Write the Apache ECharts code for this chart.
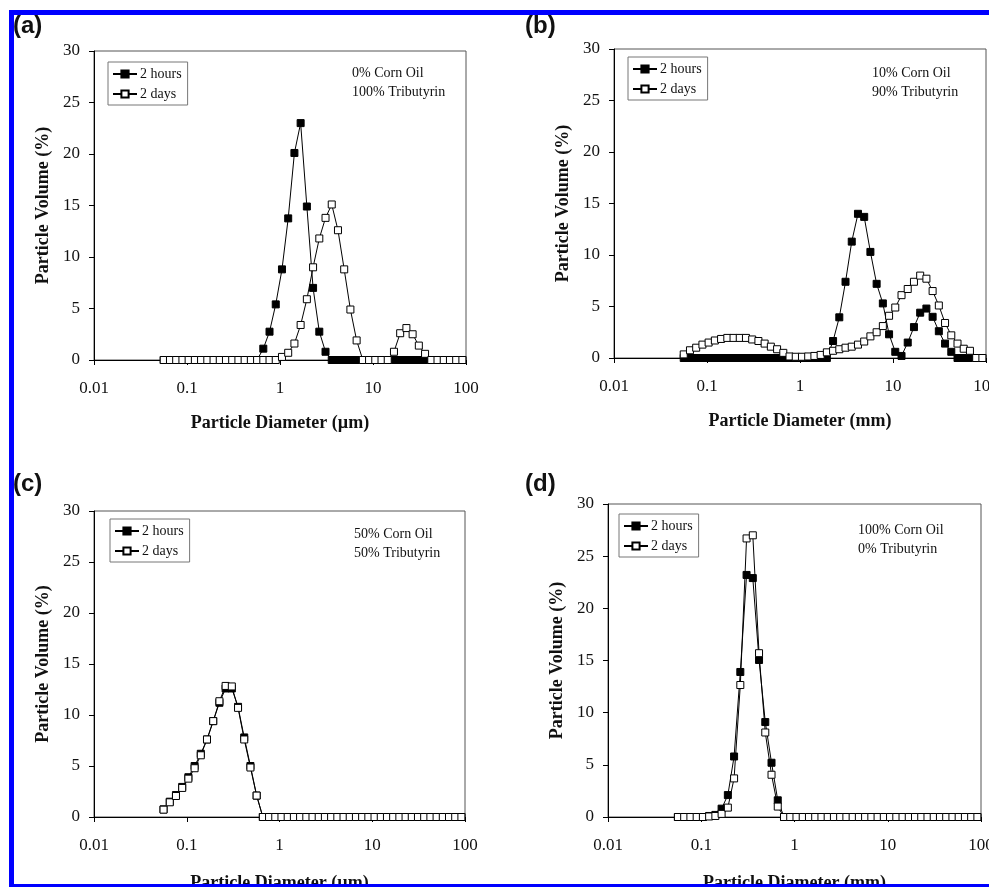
<!DOCTYPE html>
<html><head><meta charset="utf-8">
<script src="https://cdn.jsdelivr.net/npm/echarts@6/dist/echarts.min.js"></script>
<style>html,body{margin:0;padding:0;background:#fff;} #c{width:989px;height:887px;}</style>
</head><body><div id="c"></div>
<script>
// particle size classes (µm / mm), shared by all panels
const diameters = [0.0562,0.0656,0.0765,0.0893,0.1041,0.1215,0.1417,0.1653,0.1929,0.2250,
  0.2624,0.3062,0.3572,0.4166,0.4860,0.5670,0.6614,0.7716,0.9000,1.050,
  1.225,1.429,1.667,1.945,2.268,2.646,3.087,3.601,4.201,4.900,
  5.715,6.668,7.778,9.073,10.58,12.35,14.40,16.80,19.60,22.86,
  26.67,31.11,36.29,42.34,49.39,57.61,67.21,78.41,91.46];

const xTickLabels = ['0.01','0.1','1','10','100'];
const seriesNames = ['2 hours','2 days'];

// (a) 0% corn oil / 100% tributyrin
const aHours = [0,0,0,0,0,0,0,0,0,0, 0,0,0,0,0,0,1.1,2.75,5.4,8.8, 13.75,20.1,23.0,14.9,7.0,2.75,0.8,0,0,0, 0,0,0,0,0,0,0,0,0,0, 0,0,0,0,0,0,0,0,0];
const aDays  = [0,0,0,0,0,0,0,0,0,0, 0,0,0,0,0,0,0,0,0,0.3, 0.7,1.6,3.4,5.9,9.0,11.8,13.8,15.1,12.6,8.8, 4.9,1.9,0,0,0,0,0,0.8,2.6,3.1, 2.5,1.4,0.6,0,0,0,0,0,0];
// (b) 10% corn oil / 90% tributyrin
const bHours = [0,0,0,0,0,0,0,0,0,0, 0,0,0,0,0,0,0,0,0,0, 0,0,0,0,1.65,3.95,7.4,11.3,14.0,13.7, 10.3,7.2,5.3,2.3,0.6,0.2,1.5,3.0,4.4,4.8, 4.0,2.6,1.4,0.6,0,0,0,0,0];
const bDays  = [0.35,0.75,1.0,1.3,1.5,1.7,1.85,1.95,1.95,1.95, 1.95,1.8,1.65,1.4,1.1,0.85,0.5,0.15,0.12,0.12, 0.15,0.2,0.3,0.55,0.7,0.85,1.0,1.1,1.3,1.6, 2.1,2.5,3.1,4.1,4.9,6.1,6.7,7.4,8.0,7.7, 6.5,5.1,3.4,2.2,1.4,0.9,0.7,0,0];
// (c) 50% corn oil / 50% tributyrin
const cHours = [0.75,1.5,2.15,2.95,3.9,5.0,6.2,7.6,9.4,11.2, 12.6,12.6,10.8,7.8,5.0,2.1,0,0,0,0, 0,0,0,0,0,0,0,0,0,0, 0,0,0,0,0,0,0,0,0,0, 0,0,0,0,0,0,0,0,0];
const cDays  = [0.72,1.44,2.06,2.85,3.76,4.78,6.05,7.6,9.4,11.35, 12.85,12.8,10.7,7.6,4.85,2.1,0,0,0,0, 0,0,0,0,0,0,0,0,0,0, 0,0,0,0,0,0,0,0,0,0, 0,0,0,0,0,0,0,0,0];
// (d) 100% corn oil / 0% tributyrin
const dHours = [0,0,0,0,0,0.1,0.2,0.8,2.1,5.8, 13.9,23.2,22.9,15.05,9.1,5.2,1.6,0,0,0, 0,0,0,0,0,0,0,0,0,0, 0,0,0,0,0,0,0,0,0,0, 0,0,0,0,0,0,0,0,0];
const dDays  = [0,0,0,0,0,0.05,0.1,0.3,0.9,3.7, 12.65,26.7,27.0,15.7,8.1,4.05,1.0,0,0,0, 0,0,0,0,0,0,0,0,0,0, 0,0,0,0,0,0,0,0,0,0, 0,0,0,0,0,0,0,0,0];

const panelLabels = ['(a)','(b)','(c)','(d)'];
const xTitles = ['Particle Diameter (µm)','Particle Diameter (mm)','Particle Diameter (µm)','Particle Diameter (mm)'];
const yTitle = 'Particle Volume (%)';
const notes = [['0% Corn Oil','100% Tributyrin'],['10% Corn Oil','90% Tributyrin'],['50% Corn Oil','50% Tributyrin'],['100% Corn Oil','0% Tributyrin']];
const hoursSets = [aHours,bHours,cHours,dHours];
const daysSets = [aDays,bDays,cDays,dDays];

// layout (pixels)
const layout = [
  {grid:{left:94,top:51,width:372,height:309}, legend:{left:108,top:62}, note:{x:352,y:73}, label:{x:13,y:26}, xGap:54},
  {grid:{left:614,top:49,width:372,height:309}, legend:{left:628,top:57}, note:{x:872,y:73}, label:{x:525,y:26}, xGap:54},
  {grid:{left:94,top:511,width:371,height:306}, legend:{left:110,top:519}, note:{x:354,y:534}, label:{x:13,y:484}, xGap:57},
  {grid:{left:608,top:504,width:373,height:313}, legend:{left:619,top:514}, note:{x:858,y:530}, label:{x:525,y:484}, xGap:57}
];

const serif = '"Liberation Serif", "Times New Roman", serif';
const grids = [], xAxes = [], yAxes = [], series = [], legends = [], graphics = [];

layout.forEach((L, i) => {
  grids.push(Object.assign({show:true, borderColor:'#555', borderWidth:1, backgroundColor:'transparent', containLabel:false, outerBoundsMode:'none'}, L.grid));
  xAxes.push({
    type:'log', logBase:10, min:0.01, max:100, gridIndex:i,
    name:xTitles[i], nameLocation:'middle', nameGap:L.xGap,
    nameTextStyle:{fontFamily:serif, fontWeight:'bold', fontSize:18, color:'#111'},
    axisLine:{show:true, onZero:false, lineStyle:{color:'#000', width:1}},
    axisTick:{show:true, inside:false, length:5, lineStyle:{color:'#000'}},
    minorTick:{show:false}, splitLine:{show:false},
    axisLabel:{fontFamily:serif, fontSize:17, color:'#111', margin:20, hideOverlap:false,
      formatter:(v)=>xTickLabels[Math.round(Math.log10(v))+2]}
  });
  yAxes.push({
    type:'value', min:0, max:30, interval:5, gridIndex:i,
    name:yTitle, nameLocation:'middle', nameGap:42,
    nameTextStyle:{fontFamily:serif, fontWeight:'bold', fontSize:18, color:'#111'},
    axisLine:{show:true, lineStyle:{color:'#000', width:1}},
    axisTick:{show:true, inside:false, length:5, lineStyle:{color:'#000'}},
    splitLine:{show:false},
    axisLabel:{fontFamily:serif, fontSize:17, color:'#111', margin:14}
  });
  series.push({
    name:seriesNames[0], type:'line', xAxisIndex:i, yAxisIndex:i,
    data:diameters.map((d,k)=>[d, hoursSets[i][k]]),
    symbol:'rect', symbolSize:7, showAllSymbol:true,
    lineStyle:{color:'#000', width:1},
    itemStyle:{color:'#000', borderColor:'#000', borderWidth:1},
    emphasis:{disabled:true}, z:2
  });
  series.push({
    name:seriesNames[1], type:'line', xAxisIndex:i, yAxisIndex:i,
    data:diameters.map((d,k)=>[d, daysSets[i][k]]),
    symbol:'rect', symbolSize:7, showAllSymbol:true,
    lineStyle:{color:'#000', width:1},
    itemStyle:{color:'#fff', borderColor:'#000', borderWidth:1},
    emphasis:{disabled:true}, z:3
  });
  legends.push({
    orient:'vertical', left:L.legend.left, top:L.legend.top,
    data:seriesNames, itemWidth:24, itemHeight:9, itemGap:6,
    padding:[5,6,4,4], borderColor:'#777', borderWidth:1, backgroundColor:'#fff',
    textStyle:{fontFamily:serif, fontSize:14, color:'#111', padding:[0,0,0,-2]},
    selectedMode:false
  });
  graphics.push({type:'text', z:50, style:{text:notes[i][0], x:L.note.x, y:L.note.y, fill:'#111', font:'14px ' + serif, align:'left', verticalAlign:'middle'}});
  graphics.push({type:'text', z:50, style:{text:notes[i][1], x:L.note.x, y:L.note.y+19, fill:'#111', font:'14px ' + serif, align:'left', verticalAlign:'middle'}});
  graphics.push({type:'text', z:50, style:{text:panelLabels[i], x:L.label.x, y:L.label.y, fill:'#111', font:'bold 24px "Liberation Sans", Arial, sans-serif', align:'left', verticalAlign:'middle'}});
});

// blue frame
graphics.push({type:'rect', z:100, shape:{x:9, y:10, width:990, height:5}, style:{fill:'#0000ff'}});
graphics.push({type:'rect', z:100, shape:{x:9, y:10, width:5, height:880}, style:{fill:'#0000ff'}});
graphics.push({type:'rect', z:100, shape:{x:9, y:884, width:990, height:5}, style:{fill:'#0000ff'}});

const chart = echarts.init(document.getElementById('c'), null, {renderer:'canvas'});
chart.setOption({
  animation:false, backgroundColor:'#fff',
  grid:grids, xAxis:xAxes, yAxis:yAxes, series:series, legend:legends, graphic:graphics
});
</script></body></html>
